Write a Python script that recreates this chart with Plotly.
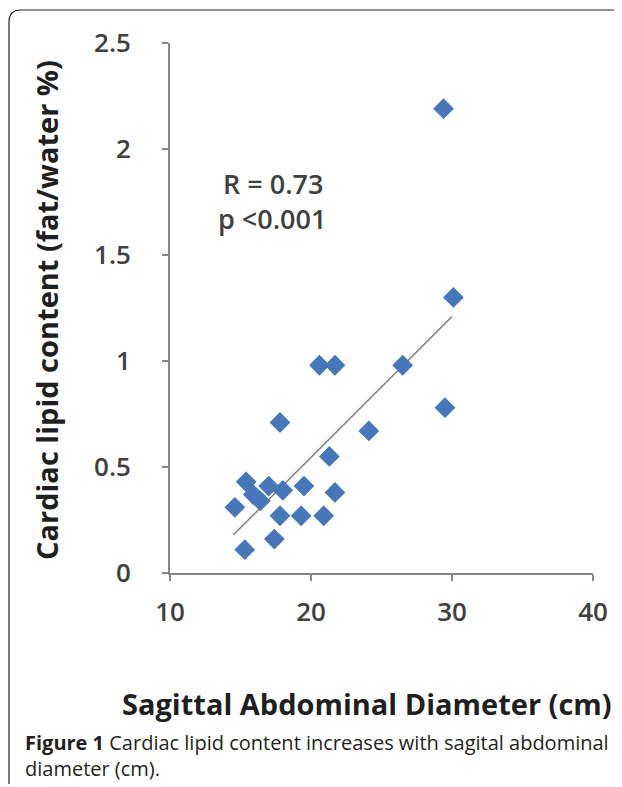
import plotly.graph_objects as go

# Data
sad_cm = [14.6, 15.4, 15.9, 16.4, 17.0, 18.0, 15.3, 17.4, 17.8, 19.3, 20.9,
          19.5, 21.7, 21.3, 17.8, 24.1, 20.6, 21.7, 26.5, 29.5, 30.1, 29.4]
lipid_pct = [0.31, 0.43, 0.37, 0.34, 0.41, 0.39, 0.11, 0.16, 0.27, 0.27, 0.27,
             0.41, 0.38, 0.55, 0.71, 0.67, 0.98, 0.98, 0.98, 0.78, 1.30, 2.19]
trend_x = [14.5, 30.0]
trend_y = [0.18, 1.21]
x_ticks = [10, 20, 30, 40]
y_ticks = [0, 0.5, 1, 1.5, 2, 2.5]
y_ticklabels = ["0", "0.5", "1", "1.5", "2", "2.5"]

# page is offset by the 8px body margin
OFF = 8
W, H = 622 - OFF, 787 - OFF
PL, PR, PT, PB = 170, 593, 43, 573          # plot area in page pixels
L, T = PL - OFF, PT - OFF
pw, ph = PR - PL, PB - PT
R, B = W - L - pw, H - T - ph


def px(x):
    return (x - PL) / pw


def py(y):
    return (PB - y) / ph


fig = go.Figure()
fig.add_trace(go.Scatter(x=trend_x, y=trend_y, mode="lines",
                         line=dict(color="#7f7f7f", width=1.5),
                         hoverinfo="skip", showlegend=False))
fig.add_trace(go.Scatter(x=sad_cm, y=lipid_pct, mode="markers",
                         marker=dict(symbol="diamond", size=16, color="#4677B8",
                                     line=dict(width=0)),
                         showlegend=False))

axis_font = dict(family="Open Sans", size=26, color="#404040", weight=600)
fig.update_xaxes(range=[10, 40], tickvals=x_ticks, showgrid=False, zeroline=False,
                 showline=True, linecolor="#868686", linewidth=1.8,
                 ticks="outside", ticklen=6, tickcolor="#868686", tickwidth=1.5,
                 tickfont=axis_font, ticklabelstandoff=9)
fig.update_yaxes(range=[0, 2.5], tickvals=y_ticks, ticktext=y_ticklabels,
                 showgrid=False, zeroline=False,
                 showline=True, linecolor="#868686", linewidth=1.8,
                 ticks="outside", ticklen=6, tickcolor="#868686", tickwidth=1.5,
                 tickfont=axis_font, ticklabelstandoff=26)

title_font = dict(family="Open Sans", size=29, color="#1f1f1f", weight=700)
note_font = dict(family="Open Sans", size=27, color="#404040", weight=600)
cap_font = dict(family="Open Sans", size=20, color="#231f20")


def ann(text, x, y, font, xanchor="center", angle=0):
    return dict(text=text, x=px(x), y=py(y), xref="paper", yref="paper",
                xanchor=xanchor, yanchor="middle", textangle=angle,
                showarrow=False, font=font)


annotations = [
    ann("Cardiac lipid content (fat/water %)", 46, 310, title_font, angle=-90),
    ann("Sagittal Abdominal Diameter (cm)", 367, 703, title_font),
    ann("R = 0.73", 221, 183, note_font, xanchor="left"),
    ann("p <0.001", 216, 218, note_font, xanchor="left"),
    ann("<b>Figure 1</b> Cardiac lipid content increases with sagital abdominal",
        23, 742, cap_font, xanchor="left"),
    ann("diameter (cm).", 23, 768, cap_font, xanchor="left"),
]

r = 12
bx, btop, bbot = 9, 10, 784
path = (f"M {px(bx)},{py(bbot)} L {px(bx)},{py(btop + r)} "
        f"Q {px(bx)},{py(btop)} {px(bx + r)},{py(btop)} L {px(640)},{py(btop)}")
shapes = [dict(type="path", path=path, xref="paper", yref="paper",
               line=dict(color="#231f20", width=1.2))]

fig.update_layout(width=W, height=H, autosize=False,
                  margin=dict(l=L, r=R, t=T, b=B),
                  plot_bgcolor="white", paper_bgcolor="white",
                  annotations=annotations, shapes=shapes)

fig.write_html("out.html")
